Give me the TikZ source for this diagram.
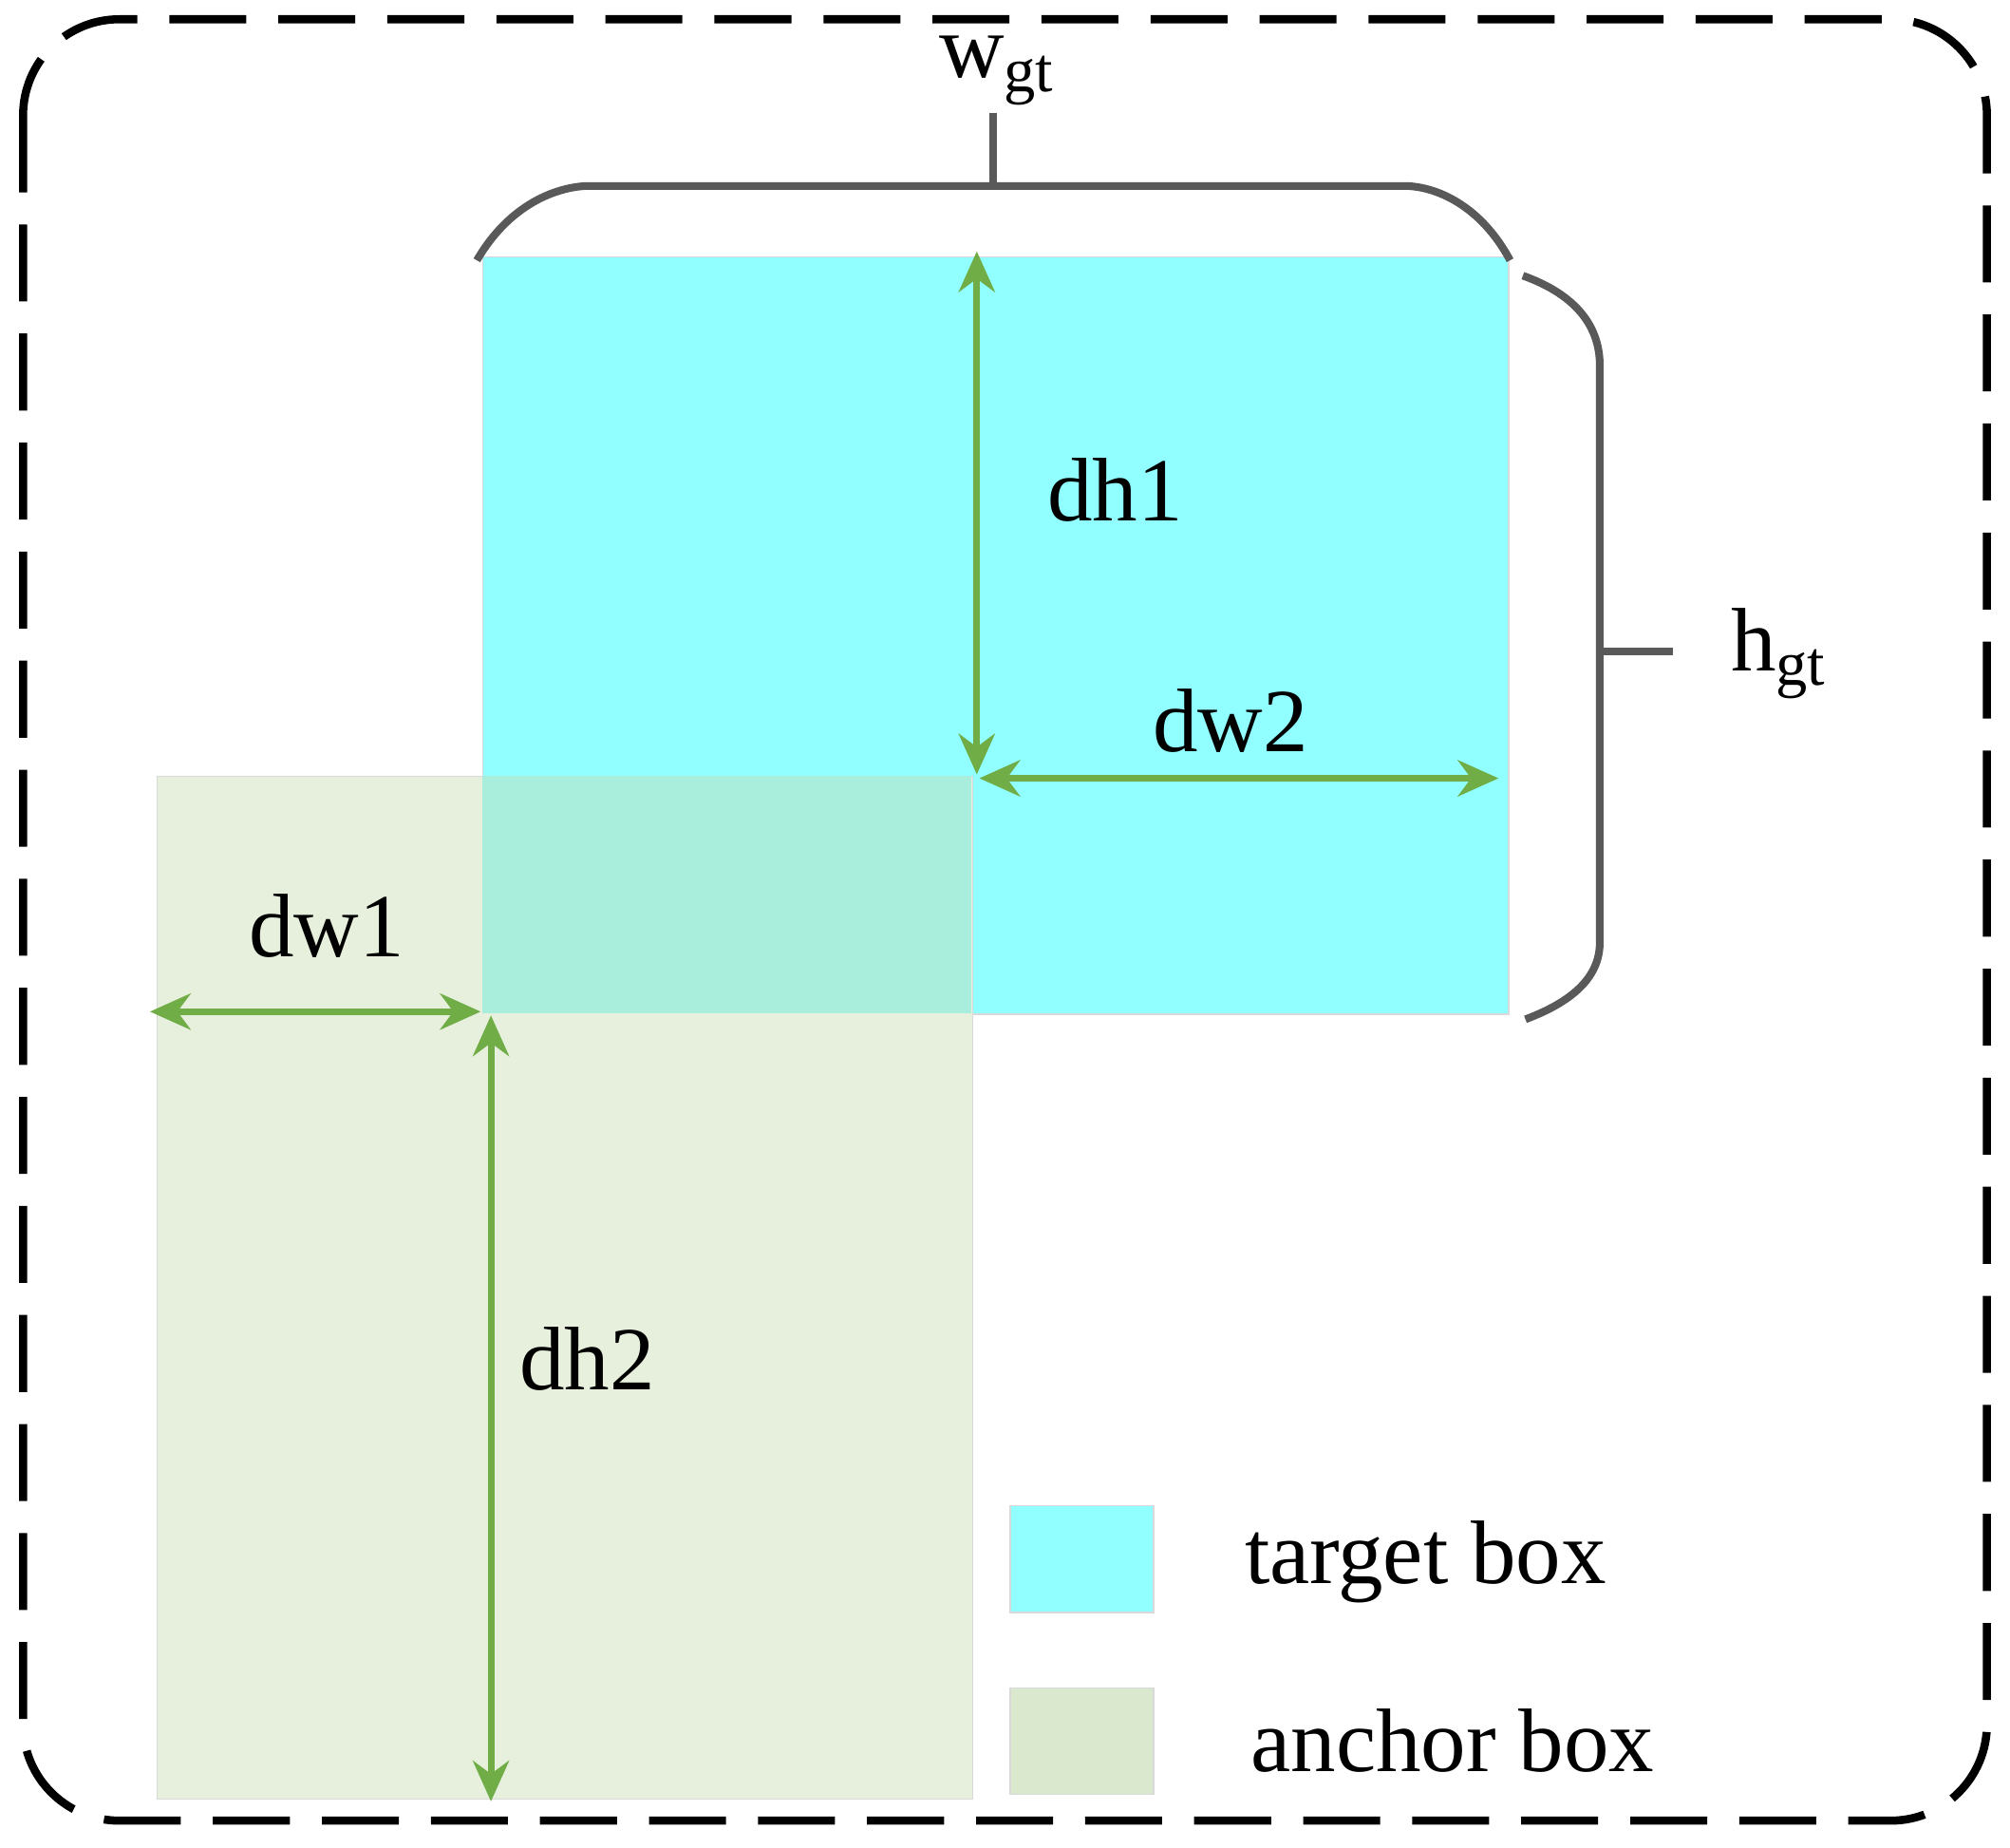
\documentclass[tikz,border=0pt]{standalone}
\usepackage{fontspec}
\setmainfont{Liberation Serif}
\usetikzlibrary{arrows.meta}
\definecolor{cy}{HTML}{91FFFF}
\definecolor{gb}{HTML}{E6F0DC}
\definecolor{ov}{HTML}{A9EEDD}
\definecolor{ar}{HTML}{70AD47}
\definecolor{br}{HTML}{595959}
\begin{document}
\begin{tikzpicture}[x=0.01cm,y=-0.01cm,
  lbl/.style={font=\fontsize{20}{24}\selectfont,inner sep=0pt},
  arr/.style={ar,line width=1.5pt,{Stealth[length=9pt,width=8pt]}-{Stealth[length=9pt,width=8pt]}},
  brace/.style={br,line width=1.7pt},
  box/.style={draw=black!15,line width=0.3pt}]
\useasboundingbox (0,0) rectangle (1568,1441);
\draw[line width=1.8pt,dash pattern=on 0.6cm off 0.25cm,rounded corners=0.75cm] (18,15) rectangle (1550,1420);
\node[box,fill=cy,minimum width=8cm,minimum height=5.9cm,inner sep=0,anchor=north west] (tgt) at (376,200) {};
\node[box,fill=gb,minimum width=6.36cm,minimum height=7.97cm,inner sep=0,anchor=north west] (anc) at (122,605) {};
\fill[ov] (376,605) rectangle (758,790);
% braces
\coordinate (t1) at (372,203); \coordinate (t2) at (1178,203);
\draw[brace] (t1) .. controls (400,155) and (440,145) .. (460,145) -- (1095,145) .. controls (1120,145) and (1155,160) .. (t2);
\coordinate (tt) at (775,145); \coordinate (tt2) at (775,88);
\draw[brace] (tt) -- (tt2);
\draw[brace] (1188,215) .. controls (1230,230) and (1248,255) .. (1248,285) -- (1248,735) .. controls (1248,760) and (1230,780) .. (1190,795);
\coordinate (rt) at (1248,508); \coordinate (rt2) at (1305,508);
\draw[brace] (rt) -- (rt2);
% arrows
\coordinate (a1) at (762,196); \coordinate (a2) at (762,604);
\coordinate (b1) at (764,607); \coordinate (b2) at (1169,607);
\coordinate (c1) at (117,789); \coordinate (c2) at (375,789);
\coordinate (d1) at (383,792); \coordinate (d2) at (383,1405);
\draw[arr] (a1) -- (a2);
\draw[arr] (b1) -- (b2);
\draw[arr] (c1) -- (c2);
\draw[arr] (d1) -- (d2);
% labels
\node[lbl] (lw) at (778,55) {w\textsubscript{gt}};
\node[lbl] (lh) at (1388,510) {h\textsubscript{gt}};
\node[lbl] (ldh1) at (870,382) {dh1};
\node[lbl] (ldw2) at (960,562) {dw2};
\node[lbl] (ldw1) at (255,722) {dw1};
\node[lbl] (ldh2) at (458,1060) {dh2};
% legend
\node[box,fill=cy,minimum width=1.12cm,minimum height=0.83cm,inner sep=0] (lg1) at (844,1216) {};
\node[box,fill=gb!90!ar,minimum width=1.12cm,minimum height=0.83cm,inner sep=0] (lg2) at (844,1358) {};
\node[lbl] (lt1) at (1112,1218) {target box};
\node[lbl] (lt2) at (1133,1358) {anchor box};
\end{tikzpicture}
\end{document}
